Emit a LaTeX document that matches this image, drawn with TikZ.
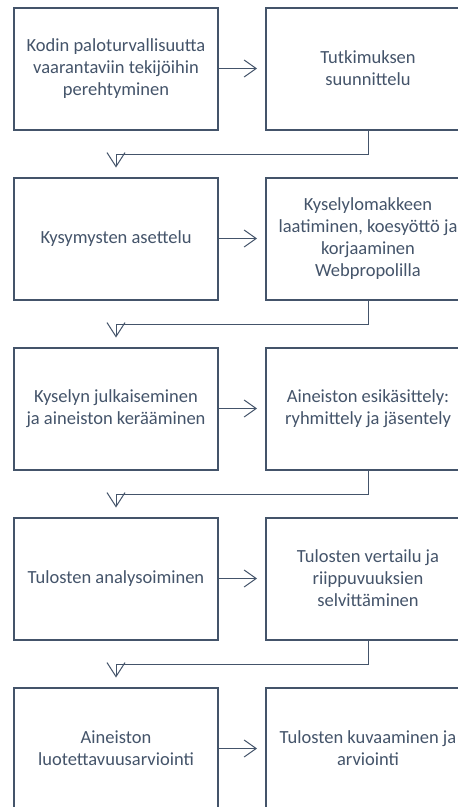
\documentclass[tikz,border=0pt]{standalone}
\usepackage{fontspec}
\setmainfont{Carlito}
\usetikzlibrary{arrows.meta}
\definecolor{ink}{HTML}{44546A}
\tikzset{
  stepbox/.style={draw=ink, line width=2pt, text=ink, align=center,
    minimum width=204pt, minimum height=122pt, inner sep=0pt,
    font=\fontsize{18.5}{22}\selectfont},
  conn/.style={draw=ink, line width=1pt},
  rarrow/.style={conn, -{Straight Barb[length=12pt,width=17pt,line width=1pt]}, shorten >=8pt},
  darrow/.style={conn, -{Straight Barb[length=14pt,width=18pt,line width=1pt]}, shorten >=9pt}
}
\begin{document}
\begin{tikzpicture}[x=1pt, y=-1pt]
\useasboundingbox (0,0) rectangle (458,807);
\clip (0,0) rectangle (458,807);
\fill[white] (0,0) rectangle (458,807);
\node[stepbox] (l1) at (116,68.5) {Kodin paloturvallisuutta\\vaarantaviin tekijöihin\\perehtyminen};
\node[stepbox] (r1) at (368,68.5) {Tutkimuksen\\suunnittelu};
\node[stepbox] (l2) at (116,238.5) {Kysymysten asettelu};
\node[stepbox] (r2) at (368,238.5) {Kyselylomakkeen\\laatiminen, koesyöttö ja\\korjaaminen\\Webpropolilla};
\node[stepbox] (l3) at (116,408.5) {Kyselyn julkaiseminen\\ja aineiston kerääminen};
\node[stepbox] (r3) at (368,408.5) {Aineiston esikäsittely:\\ryhmittely ja jäsentely};
\node[stepbox] (l4) at (116,578.5) {Tulosten analysoiminen};
\node[stepbox] (r4) at (368,578.5) {Tulosten vertailu ja\\riippuvuuksien\\selvittäminen};
\node[stepbox] (l5) at (116,748.5) {Aineiston\\luotettavuusarviointi};
\node[stepbox] (r5) at (368,748.5) {Tulosten kuvaaminen ja\\arviointi};
\foreach \i in {1,...,5}{
  \draw[rarrow] (l\i) -- (r\i);
}
\foreach \i/\j in {1/2,2/3,3/4,4/5}{
  \path (r\i.south) ++(0,24) coordinate (h\i);
  \coordinate (k\i) at (l\j.north |- h\i);
  \draw[conn] (r\i.south) -- (h\i) -- (k\i);
  \draw[darrow] (k\i) -- (l\j.north);
}
\end{tikzpicture}
\end{document}
